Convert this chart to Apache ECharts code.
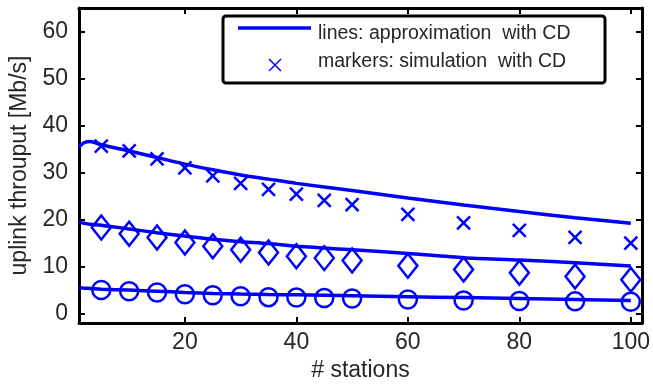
<!DOCTYPE html>
<html>
<head>
<meta charset="utf-8">
<script src="https://cdn.jsdelivr.net/npm/echarts@6/dist/echarts.min.js"></script>
<style>html,body{margin:0;padding:0;background:#fff;}#c{width:653px;height:388px;}</style>
</head>
<body>
<div id="c"></div>
<script>
// ---- data ----
const lineX = [1, 2, 3, 5, 10, 15, 20, 25, 30, 35, 40, 50, 60, 70, 80, 90, 100];
const approxHigh = [35.5, 36.4, 36.6, 35.9, 34.6, 33.2, 31.8, 30.6, 29.5, 28.6, 27.7, 26.2, 24.6, 23.1, 21.7, 20.4, 19.2];
const approxMid  = [19.4, 19.2, 19.0, 18.8, 18.0, 17.2, 16.5, 15.8, 15.3, 14.9, 14.3, 13.6, 12.8, 11.9, 11.4, 10.8, 10.1];
const approxLow  = [5.5, 5.4, 5.35, 5.2, 5.0, 4.75, 4.5, 4.3, 4.15, 4.05, 4.0, 3.8, 3.6, 3.4, 3.2, 3.0, 2.8];

const simX = [5, 10, 15, 20, 25, 30, 35, 40, 45, 50, 60, 70, 80, 90, 100];
const simCross   = [35.6, 34.6, 32.9, 31.0, 29.3, 27.7, 26.4, 25.4, 24.1, 23.2, 21.1, 19.3, 17.7, 16.2, 15.0];
const simDiamond = [18.3, 17.0, 16.2, 15.1, 14.3, 13.6, 13.0, 12.2, 11.8, 11.3, 10.2, 9.4, 8.7, 7.9, 7.2];
const simCircle  = [5.0, 4.75, 4.5, 4.1, 3.9, 3.7, 3.5, 3.4, 3.3, 3.2, 3.0, 2.8, 2.7, 2.6, 2.5];

const xTicks = [20, 40, 60, 80, 100];
const yTicks = [0, 10, 20, 30, 40, 50, 60];
const legendTexts = ['lines: approximation  with CD', 'markers: simulation  with CD'];
const xName = '# stations';
const yName = 'uplink throuput [Mb/s]';

// ---- chart ----
const BLUE = '#0000ff';
const FONT = 'Liberation Sans, Arial, Helvetica, sans-serif';
const TXT = '#262626';
const pairs = (xs, ys) => xs.map((x, i) => [x, ys[i]]);

const axisCommon = {
  type: 'value', scale: false,
  axisLine: { show: true, onZero: false, lineStyle: { color: '#000', width: 3 } },
  splitLine: { show: false }
};

const chart = echarts.init(document.getElementById('c'), null, { renderer: 'canvas' });
const lineSeries = (ys) => ({
  type: 'line', data: pairs(lineX, ys), symbol: 'none', smooth: 0.25,
  lineStyle: { color: BLUE, width: 3.5, opacity: 1 }, z: 2, silent: true
});
const markerStyle = { color: 'rgba(0,0,0,0)', borderColor: BLUE, borderWidth: 2.5, opacity: 1 };

chart.setOption({
  animation: false,
  grid: { left: 79, right: 8, top: 8, bottom: 65, containLabel: false },
  xAxis: [
    Object.assign({}, axisCommon, {
      min: 1, max: 102, position: 'bottom',
      axisTick: { show: true, inside: true, length: 6, customValues: xTicks, lineStyle: { color: '#000', width: 2 } },
      axisLabel: { show: true, customValues: xTicks, fontSize: 23, fontFamily: FONT, color: TXT, margin: 8 },
      name: xName, nameLocation: 'middle', nameGap: 33,
      nameTextStyle: { fontSize: 23, fontFamily: FONT, color: TXT }
    }),
    Object.assign({}, axisCommon, {
      min: 1, max: 102, position: 'top',
      axisTick: { show: true, inside: true, length: 6, customValues: xTicks, lineStyle: { color: '#000', width: 2 } },
      axisLabel: { show: false }
    })
  ],
  yAxis: [
    Object.assign({}, axisCommon, {
      min: -2, max: 65, position: 'left',
      axisTick: { show: true, inside: true, length: 6, customValues: yTicks, lineStyle: { color: '#000', width: 2 } },
      axisLabel: { show: true, customValues: yTicks, fontSize: 23, fontFamily: FONT, color: TXT, margin: 11 },
      name: yName, nameLocation: 'middle', nameGap: 44, nameRotate: 90,
      nameTextStyle: { fontSize: 23, fontFamily: FONT, color: TXT }
    }),
    Object.assign({}, axisCommon, {
      min: -2, max: 65, position: 'right',
      axisTick: { show: true, inside: true, length: 6, customValues: yTicks, lineStyle: { color: '#000', width: 2 } },
      axisLabel: { show: false }
    })
  ],
  series: [
    lineSeries(approxHigh),
    lineSeries(approxMid),
    lineSeries(approxLow),
    {
      type: 'scatter', data: pairs(simX, simCross),
      symbol: 'path://M0,0L10,10M10,0L0,10', symbolSize: 13,
      itemStyle: markerStyle, z: 3, silent: true
    },
    {
      type: 'scatter', data: pairs(simX, simDiamond),
      symbol: 'diamond', symbolSize: [19, 24],
      itemStyle: markerStyle, z: 3, silent: true
    },
    {
      type: 'scatter', data: pairs(simX, simCircle),
      symbol: 'circle', symbolSize: 18,
      itemStyle: markerStyle, z: 3, silent: true
    }
  ],
  graphic: [
    { type: 'rect', shape: { x: 223, y: 16, width: 382, height: 67, r: 3 },
      style: { fill: '#fff', stroke: '#000', lineWidth: 3 }, z: 100 },
    { type: 'line', shape: { x1: 238, y1: 28, x2: 311, y2: 28 },
      style: { stroke: BLUE, lineWidth: 3.5 }, z: 101 },
    { type: 'line', shape: { x1: 269, y1: 59, x2: 281, y2: 71 },
      style: { stroke: BLUE, lineWidth: 1.5 }, z: 101 },
    { type: 'line', shape: { x1: 281, y1: 59, x2: 269, y2: 71 },
      style: { stroke: BLUE, lineWidth: 1.5 }, z: 101 },
    { type: 'text', x: 318, y: 34, z: 101,
      style: { text: legendTexts[0], font: '19.5px ' + FONT, fill: TXT, verticalAlign: 'middle' } },
    { type: 'text', x: 318, y: 62, z: 101,
      style: { text: legendTexts[1], font: '19.5px ' + FONT, fill: TXT, verticalAlign: 'middle' } }
  ]
});
</script>
</body>
</html>
